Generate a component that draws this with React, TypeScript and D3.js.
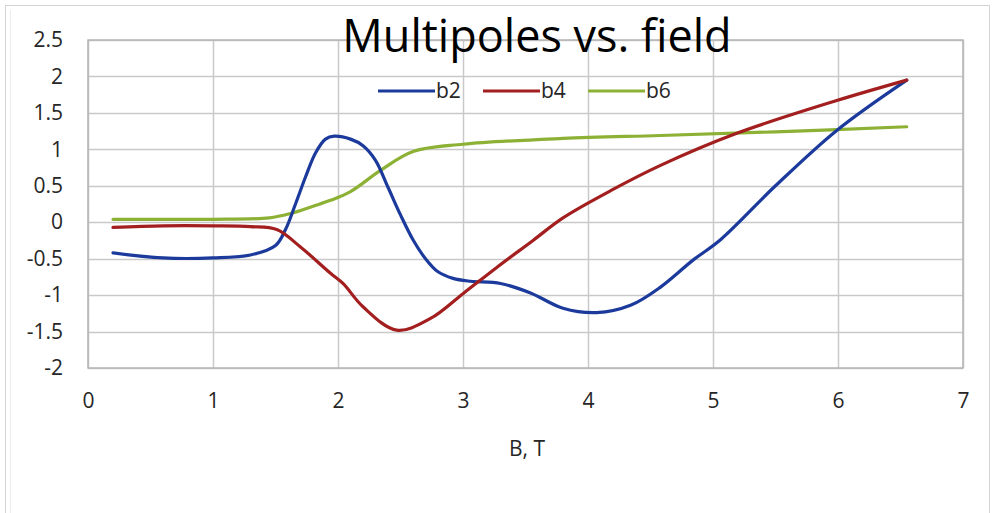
import { useEffect, useRef } from "react";
import * as d3 from "d3";

// field values (T)
const b2Field = [0.2, 0.6, 1.0, 1.3, 1.5, 1.58, 1.66, 1.74, 1.82, 1.9, 1.97, 2.1, 2.2, 2.3, 2.4, 2.5, 2.6, 2.7, 2.8, 2.92, 3.06, 3.3, 3.54, 3.8, 4.07, 4.34, 4.58, 4.84, 5.06, 5.5, 5.99, 6.55];
const b2Values = [-0.42, -0.49, -0.49, -0.45, -0.32, -0.1, 0.25, 0.62, 0.95, 1.14, 1.18, 1.14, 1.05, 0.85, 0.48, 0.1, -0.24, -0.5, -0.68, -0.77, -0.81, -0.84, -0.97, -1.18, -1.24, -1.14, -0.89, -0.52, -0.24, 0.5, 1.26, 1.95];

const b4Field = [0.2, 0.6, 1.0, 1.3, 1.51, 1.7, 1.94, 2.04, 2.2, 2.47, 2.74, 3.0, 3.27, 3.56, 3.8, 4.2, 4.58, 5.19, 5.99, 6.55];
const b4Values = [-0.07, -0.05, -0.05, -0.06, -0.1, -0.34, -0.7, -0.84, -1.16, -1.48, -1.32, -0.98, -0.62, -0.25, 0.06, 0.45, 0.78, 1.22, 1.67, 1.95];

const b6Field = [0.2, 0.6, 1.0, 1.45, 1.62, 1.8, 1.94, 2.1, 2.34, 2.6, 3.0, 3.8, 4.58, 5.5, 6.55];
const b6Values = [0.04, 0.04, 0.04, 0.06, 0.12, 0.22, 0.3, 0.42, 0.71, 0.97, 1.07, 1.15, 1.19, 1.24, 1.31];

const seriesNames = ["b2", "b4", "b6"];
const seriesColors = ["#1b3a9c", "#a31f1f", "#8cb135"];
const xTicks = [0, 1, 2, 3, 4, 5, 6, 7];
const yTicks = [-2, -1.5, -1, -0.5, 0, 0.5, 1, 1.5, 2, 2.5];

const FONT = "'Open Sans', sans-serif";

export default function App() {
  const ref = useRef<SVGSVGElement>(null);

  useEffect(() => {
    const svg = d3.select(ref.current);
    svg.selectAll("*").remove();

    const left = 88, right = 963, top = 40, bottom = 368;
    const x = d3.scaleLinear().domain([0, 7]).range([left, right]);
    const y = d3.scaleLinear().domain([-2, 2.5]).range([bottom, top]);

    // outer chart frame
    svg.append("rect")
      .attr("x", 5.5).attr("y", 5.5).attr("width", 984).attr("height", 540)
      .attr("fill", "white").attr("stroke", "#d4d4d4");
    svg.append("line")
      .attr("x1", 10.5).attr("x2", 10.5).attr("y1", 10).attr("y2", 513)
      .attr("stroke", "#ececec");

    // grid
    svg.append("g")
      .selectAll("line.h")
      .data(yTicks)
      .enter()
      .append("line")
      .attr("x1", left).attr("x2", right)
      .attr("y1", (d) => Math.round(y(d)) + 0.5)
      .attr("y2", (d) => Math.round(y(d)) + 0.5)
      .attr("stroke", "#c9c9c9").attr("stroke-width", 1.5);
    svg.append("g")
      .selectAll("line.v")
      .data(xTicks)
      .enter()
      .append("line")
      .attr("y1", top).attr("y2", bottom)
      .attr("x1", (d) => Math.round(x(d)) + 0.5)
      .attr("x2", (d) => Math.round(x(d)) + 0.5)
      .attr("stroke", "#c9c9c9").attr("stroke-width", 1.5);
    svg.append("rect")
      .attr("x", left).attr("y", top).attr("width", right - left).attr("height", bottom - top)
      .attr("fill", "none").attr("stroke", "#b5b5b5").attr("stroke-width", 1.5);

    // axes labels
    const yAxis = svg.append("g")
      .attr("transform", "translate(" + (left - 25) + ",0)")
      .call(d3.axisLeft(y).tickValues(yTicks).tickSize(0).tickFormat((d) => String(d)));
    yAxis.select(".domain").remove();
    yAxis.selectAll("text")
      .attr("x", 0)
      .style("font-family", FONT).style("font-size", "21px").attr("fill", "#262626");

    const xAxis = svg.append("g")
      .attr("transform", "translate(0," + (bottom + 22) + ")")
      .call(d3.axisBottom(x).tickValues(xTicks).tickSize(0).tickFormat((d) => String(d)));
    xAxis.select(".domain").remove();
    xAxis.selectAll("text")
      .style("font-family", FONT).style("font-size", "21px").attr("fill", "#262626");

    svg.append("text")
      .attr("x", 527).attr("y", 456)
      .attr("text-anchor", "middle")
      .style("font-family", FONT).style("font-size", "21px").attr("fill", "#262626")
      .text("B, T");

    // curves
    const fields = [b2Field, b4Field, b6Field];
    const values = [b2Values, b4Values, b6Values];
    const line = d3.line<[number, number]>()
      .x((d) => x(d[0]))
      .y((d) => y(d[1]))
      .curve(d3.curveCatmullRom.alpha(0.5));
    [2, 0, 1].forEach((i) => {
      const pts = fields[i].map((f, k) => [f, values[i][k]] as [number, number]);
      svg.append("path")
        .attr("d", line(pts))
        .attr("fill", "none")
        .attr("stroke", seriesColors[i])
        .attr("stroke-width", 3.2)
        .attr("stroke-linecap", "round");
    });

    // legend
    const legendX = [378, 483, 588];
    seriesNames.forEach((name, i) => {
      svg.append("line")
        .attr("x1", legendX[i]).attr("x2", legendX[i] + 57)
        .attr("y1", 91).attr("y2", 91)
        .attr("stroke", seriesColors[i]).attr("stroke-width", 3.2);
      svg.append("text")
        .attr("x", legendX[i] + 58).attr("y", 98)
        .style("font-family", FONT).style("font-size", "21px").attr("fill", "#262626")
        .text(name);
    });

    // title
    svg.append("text")
      .attr("x", 537).attr("y", 52)
      .attr("text-anchor", "middle")
      .style("font-family", FONT).style("font-size", "45px").attr("fill", "#000")
      .text("Multipoles vs. field");
  }, []);

  return (
    <svg
      ref={ref}
      width={993}
      height={513}
      style={{ position: "absolute", left: 0, top: 0 }}
    />
  );
}
